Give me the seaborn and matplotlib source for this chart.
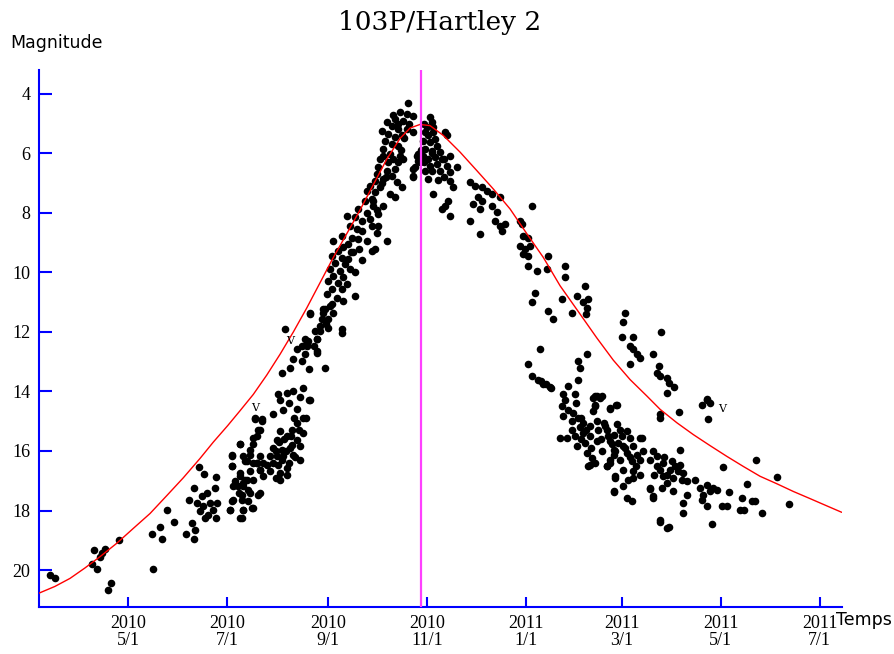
import pandas as pd
import numpy as np
import matplotlib.pyplot as plt
import seaborn as sns

# !! Observations (days counted from 2010-01-01, total magnitude) !!
early_day = [71.5, 74.9, 97.4, 100.5, 99.0, 102.6, 105.6, 103.6, 107.3, 109.3,
             114.3, 134.4, 139.5, 140.6, 135.4, 143.7, 148.3, 155.5, 159.0, 161.1,
             160.7, 157.6, 160.7, 163.8, 166.7, 162.1, 164.2, 166.2, 168.3, 169.3,
             172.4, 173.4, 173.9, 174.5, 173.9, 165.2, 170.3, 167.3]
early_mag = [20.18, 20.27, 19.8, 19.96, 19.34, 19.55, 19.29, 19.43, 20.67, 20.44,
             18.98, 18.79, 18.57, 18.96, 19.96, 17.97, 18.37, 18.78, 18.42, 18.65,
             18.96, 17.64, 17.24, 16.54, 16.76, 17.75, 18.03, 17.86, 17.41, 18.14,
             17.97, 17.24, 16.87, 17.75, 18.25, 17.52, 17.75, 18.25]

july_day = [183.7, 184.1, 182.7, 184.1, 188.8, 190.9, 185.7, 187.8, 188.8, 190.9,
            192.9, 189.9, 193.9, 188.8, 197.0, 195.0, 191.9, 197.0, 200.1, 198.1,
            202.2, 201.1, 200.1, 197.0, 201.1, 199.1, 203.2]
july_mag = [16.15, 16.49, 17.97, 17.69, 18.25, 17.97, 17.13, 17.19, 16.85, 17.07,
            16.96, 17.47, 17.3, 15.78, 16.4, 16.12, 16.35, 15.56, 15.28, 14.94,
            14.94, 16.63, 17.47, 17.92, 16.18, 16.4, 16.4]

aug_day = [231.7, 240.1, 241.8, 238.1, 216.5, 223.7, 226.8, 230.8, 236.0, 236.4,
           228.9, 221.7, 226.8, 231.5, 219.6, 214.5, 241.2, 212.4, 217.6, 221.7,
           227.8, 213.5, 232.0, 215.6, 209.4, 198.1, 202.2, 227.8, 223.7, 220.7,
           213.5, 227.8, 217.6, 223.7, 211.4, 201.1, 199.1, 225.8, 219.6, 214.5,
           197.1, 188.9, 195.0, 221.7, 215.6, 211.4, 183.7, 190.9, 207.3, 225.8,
           193.0, 199.1, 205.3, 212.4, 217.6, 201.1, 195.0, 207.3, 213.5, 183.7,
           188.9, 185.8, 191.9, 197.1, 203.2, 213.5, 184.8, 190.9, 187.9, 195.0,
           201.1, 184.8, 189.9, 182.7, 196.1, 190.9, 189.9, 194.0, 240.1, 244.3,
           230.0, 236.1, 231.1, 229.5, 209.0, 211.0, 213.0, 215.0, 217.0, 219.0,
           221.0, 223.0, 209.0, 211.0, 218.0, 216.0, 220.0, 222.0, 225.0, 224.0,
           226.0, 219.0]
aug_mag = [11.37, 11.35, 11.74, 11.97, 11.89, 12.59, 12.47, 12.3, 12.25, 12.64,
           12.75, 12.92, 12.98, 13.26, 13.2, 13.37, 13.2, 14.1, 14.04, 13.99,
           13.88, 14.27, 14.27, 14.61, 14.77, 14.89, 15.0, 14.89, 15.05, 15.28,
           15.34, 15.39, 15.5, 15.62, 15.62, 15.28, 15.5, 15.84, 15.9, 15.95,
           15.78, 15.78, 15.95, 16.12, 16.18, 16.18, 16.18, 16.18, 16.18, 16.29,
           16.35, 16.4, 16.46, 16.46, 16.57, 16.63, 16.68, 16.68, 16.74, 16.51,
           16.74, 17.02, 16.96, 16.96, 16.85, 16.96, 17.19, 17.19, 17.41, 17.41,
           17.41, 17.64, 17.64, 17.97, 17.92, 17.97, 18.25, 17.69, 11.24, 11.13,
           12.36, 12.7, 14.27, 14.89, 15.9, 16.0, 15.7, 16.3, 16.0, 16.4,
           15.8, 16.2, 16.4, 16.9, 16.8, 15.6, 15.5, 14.9, 15.3, 14.6,
           14.2, 14.4]

rise_day = [292.6, 287.4, 291.5, 295.6, 284.3, 289.5, 279.2, 282.3, 276.1, 286.4,
            291.5, 280.2, 284.3, 288.5, 278.2, 282.3, 286.4, 277.1, 281.3, 287.4,
            298.7, 275.0, 280.2, 289.5, 298.7, 274.0, 279.2, 284.3, 296.6, 273.0,
            282.3, 295.6, 277.1, 272.0, 285.4, 268.9, 275.0, 288.5, 266.8, 272.0,
            281.3, 284.3, 269.9, 265.8, 277.1, 270.9, 274.0, 261.7, 254.6, 259.7,
            263.8, 268.9, 256.6, 269.9, 274.0, 260.7, 273.0, 251.5, 257.6, 261.7,
            246.3, 255.6, 266.8, 279.2, 252.5, 249.4, 258.7, 269.9, 272.0, 245.3,
            251.5, 255.6, 247.3, 253.5, 256.6, 244.3, 250.4, 259.7, 246.3, 252.5,
            243.2, 249.4, 254.6, 245.3, 251.5, 242.2, 248.3, 259.7, 252.5, 245.3,
            241.2, 232.0, 246.3, 239.1, 243.2, 238.0, 243.2, 251.5, 251.5, 235.1,
            228.9, 236.1, 230.0, 234.1, 283.0, 286.0, 290.0, 293.0, 288.0, 283.0,
            277.0, 279.0, 286.0, 271.0, 276.0, 273.0, 267.0, 264.0, 262.0, 257.0,
            264.0]
rise_mag = [4.3, 4.62, 4.67, 4.73, 4.84, 4.9, 4.95, 5.07, 5.24, 5.18,
            5.18, 5.35, 5.46, 5.4, 5.57, 5.68, 5.74, 5.85, 6.02, 6.08,
            6.02, 6.19, 6.3, 6.19, 6.25, 6.47, 6.58, 6.53, 6.47, 6.69,
            6.75, 6.8, 6.86, 6.92, 6.97, 7.09, 7.14, 7.14, 7.26, 7.31,
            7.37, 7.48, 7.54, 7.59, 7.76, 7.76, 8.04, 7.87, 8.1, 8.15,
            8.27, 8.21, 8.43, 8.43, 8.43, 8.55, 8.66, 8.77, 8.83, 8.88,
            8.94, 9.05, 8.94, 8.94, 9.16, 9.28, 9.33, 9.28, 9.22, 9.44,
            9.5, 9.56, 9.67, 9.72, 9.89, 9.89, 9.95, 10.0, 10.12, 10.17,
            10.29, 10.34, 10.4, 10.57, 10.57, 10.73, 10.85, 10.79, 10.96, 11.07,
            11.24, 11.41, 11.35, 11.58, 11.58, 11.8, 11.86, 11.91, 12.02, 11.97,
            12.25, 12.25, 12.47, 12.47, 4.7, 5.0, 5.5, 5.0, 5.9, 6.2,
            6.1, 6.8, 6.3, 7.6, 7.0, 7.9, 8.0, 8.6, 9.2, 9.3,
            9.6]

post_day = [295.6, 297.7, 299.7, 295.6, 295.6, 305.9, 306.9, 307.9, 302.8, 304.8,
            301.7, 305.9, 309.0, 310.0, 302.8, 306.9, 312.1, 315.2, 316.2, 301.7,
            304.8, 309.0, 314.2, 318.2, 305.9, 310.0, 316.2, 322.4, 306.9, 312.1,
            318.2, 304.8, 314.2, 318.2, 320.3, 307.9, 317.2, 315.2, 313.1, 318.2,
            330.6, 333.6, 337.7, 340.8, 343.9, 349.0, 335.7, 337.7, 332.6, 336.7,
            343.9, 347.0, 330.6, 346.0, 349.0, 352.1, 350.1, 336.7, 361.4, 362.4,
            368.5, 363.4, 366.5, 361.4, 364.5, 367.5, 366.5, 363.4, 366.5, 371.7,
            377.8, 378.8, 370.6, 302.0, 303.0, 304.0, 307.0, 308.0, 311.0, 313.0,
            302.0, 300.5]
post_mag = [5.29, 6.08, 6.3, 6.53, 6.75, 4.78, 4.95, 5.12, 5.29, 5.4,
            5.57, 5.63, 5.52, 5.74, 5.85, 5.91, 5.96, 5.29, 5.4, 6.08,
            6.19, 6.13, 6.19, 6.08, 6.41, 6.36, 6.41, 6.47, 6.58, 6.58,
            6.64, 6.86, 6.8, 6.92, 7.14, 7.37, 7.59, 7.76, 7.87, 8.1,
            6.97, 7.09, 7.14, 7.26, 7.37, 7.48, 7.48, 7.59, 7.7, 7.87,
            7.76, 7.98, 8.27, 8.27, 8.43, 8.38, 8.6, 8.71, 8.27, 8.38,
            7.76, 8.77, 8.83, 9.11, 9.22, 9.11, 9.44, 9.39, 9.78, 9.95,
            9.89, 9.44, 10.68, 5.0, 6.6, 5.1, 6.0, 5.3, 6.9, 6.2,
            6.3, 5.9]

winter_day = [389.0, 389.0, 368.5, 378.8, 381.9, 387.1, 396.3, 401.4, 403.4, 400.4,
              402.5, 402.0, 393.2, 373.4, 366.5, 368.5, 372.5, 375.6, 379.8, 374.5,
              377.6, 380.7, 397.2, 398.2, 402.7, 397.2, 391.0, 387.9, 407.4, 409.0,
              389.0, 387.0, 391.0, 387.9, 394.1, 397.2, 393.1, 400.4, 404.5, 408.6,
              409.6, 413.7, 406.4, 410.6, 407.4, 406.4, 416.8, 420.9, 400.4, 404.5,
              415.8, 386.0, 390.1, 395.2, 393.1, 396.3, 401.4, 408.6, 417.9, 402.5,
              405.5, 418.9, 407.4, 403.4, 414.7, 419.9, 418.9, 416.8, 407.4, 404.5,
              396.0, 399.0, 402.0, 398.0, 405.0, 411.0, 412.0, 399.0, 395.0]
winter_mag = [9.78, 10.17, 11.01, 11.3, 11.55, 10.9, 10.79, 10.45, 10.9, 11.01,
              11.18, 11.41, 11.38, 12.59, 13.09, 13.48, 13.6, 13.76, 13.84, 13.65,
              13.76, 13.88, 12.98, 13.2, 12.75, 13.6, 13.82, 14.1, 14.16, 14.16,
              14.27, 14.5, 14.61, 14.83, 14.72, 14.89, 15.0, 15.05, 15.17, 15.0,
              15.28, 15.17, 14.21, 14.21, 14.5, 14.66, 14.57, 14.46, 15.39, 15.5,
              15.5, 15.56, 15.56, 15.5, 15.28, 15.84, 15.73, 15.67, 15.78, 16.06,
              16.23, 16.12, 16.4, 16.49, 16.51, 16.85, 17.38, 16.4, 14.44, 16.46,
              14.4, 14.9, 15.3, 15.2, 15.9, 15.6, 16.0, 15.6, 14.1]

upper_day = [426.0, 424.9, 424.0, 431.1, 429.1, 431.1, 433.2, 435.3, 429.1, 448.2,
             443.2, 446.7, 445.7, 447.7, 451.9, 452.9, 456.0, 451.9, 476.4, 478.5,
             473.4, 476.5, 477.1, 447.4, 447.4, 459.5]
upper_mag = [11.38, 11.66, 12.16, 12.16, 12.47, 12.59, 12.75, 12.87, 13.09, 11.99,
             12.75, 13.15, 13.37, 13.48, 13.54, 13.71, 13.85, 14.04, 14.25, 14.38,
             14.44, 14.29, 14.91, 14.77, 14.89, 14.68]

spring_day = [411.7, 416.8, 420.5, 412.8, 414.8, 418.9, 423.0, 427.1, 429.2, 435.3,
              416.8, 421.9, 425.0, 431.1, 418.9, 427.1, 433.2, 435.3, 416.8, 423.0,
              430.2, 414.8, 425.0, 431.1, 435.3, 419.9, 428.1, 431.1, 425.0, 418.9,
              427.1, 430.2, 443.5, 445.6, 441.4, 449.6, 454.8, 459.9, 447.7, 453.8,
              458.9, 462.0, 449.6, 455.8, 461.0, 464.1, 451.9, 448.9, 441.4, 443.5,
              455.8, 459.9, 436.3, 469.1, 464.1, 462.0, 462.0, 447.7, 452.9, 472.2,
              476.3, 480.4, 474.3, 478.4, 482.5, 473.4, 476.5, 479.6, 486.3, 485.7,
              488.7, 497.0, 499.0, 498.0, 504.2, 506.2, 510.3, 501.1, 506.8, 519.5,
              526.7, 490.2, 447.7, 451.9, 441.4, 443.2, 421.0, 424.0, 426.0, 429.0,
              433.0, 420.0, 437.0, 446.0, 450.0, 452.0, 457.0, 444.0]
spring_mag = [14.16, 14.58, 14.46, 15.05, 15.28, 15.45, 15.28, 15.34, 15.56, 15.56,
              15.67, 15.73, 15.84, 15.84, 15.95, 16.06, 16.12, 16.29, 16.29, 16.29,
              16.35, 16.51, 16.63, 16.68, 16.79, 16.91, 16.96, 16.91, 17.19, 17.36,
              17.58, 17.69, 16.01, 16.18, 16.29, 16.4, 16.35, 16.46, 16.63, 16.63,
              16.68, 16.74, 16.85, 16.91, 16.96, 17.02, 17.07, 17.24, 17.24, 17.52,
              17.36, 15.95, 15.56, 16.96, 17.47, 17.75, 18.09, 18.37, 18.57, 17.24,
              17.13, 17.24, 17.47, 17.36, 17.3, 17.64, 17.86, 18.44, 16.54, 17.86,
              17.86, 17.97, 17.97, 17.58, 17.69, 17.69, 18.09, 17.1, 16.29, 16.89,
              17.77, 17.37, 18.31, 18.59, 17.28, 17.58, 15.1, 15.5, 15.9, 16.2,
              16.5, 16.0, 16.0, 16.5, 16.2, 16.8, 16.5, 16.8]

curve_day = [64.8, 74.8, 84.1, 93.3, 102.6, 112.9, 123.1, 133.4, 143.7, 153.9,
             164.2, 172.4, 181.2, 188.8, 197.0, 205.3, 213.5, 221.7, 229.9, 238.1,
             246.3, 254.6, 262.8, 271.0, 279.2, 287.4, 293.6, 299.7, 305.9, 314.1,
             324.4, 334.7, 344.9, 355.2, 365.5, 375.7, 386.0, 398.3, 408.6, 418.8,
             429.1, 439.4, 447.6, 457.9, 468.1, 478.4, 488.7, 498.9, 509.2, 519.5,
             529.7, 540.0, 549.3, 559.5]
curve_mag = [20.78, 20.55, 20.28, 19.93, 19.55, 19.1, 18.6, 18.1, 17.5, 16.9,
             16.25, 15.7, 15.15, 14.65, 14.1, 13.45, 12.75, 12.0, 11.2, 10.35,
             9.5, 8.7, 7.9, 7.05, 6.2, 5.5, 5.15, 5.03, 5.07, 5.4,
             5.96, 6.58, 7.2, 7.87, 8.7, 9.5, 10.45, 11.4, 12.2, 12.95,
             13.6, 14.15, 14.6, 15.05, 15.45, 15.82, 16.18, 16.52, 16.85, 17.1,
             17.36, 17.6, 17.82, 18.06]

# "V" marks (day, magnitude)
v_day = [198.0, 219.6, 485.7]
v_mag = [14.55, 12.3, 14.6]

perihelion_day = 300.5
tick_days = [120, 181, 243, 304, 365, 424, 485, 546]
tick_labels = ['2010\n5/1', '2010\n7/1', '2010\n9/1', '2010\n11/1',
               '2011\n1/1', '2011\n3/1', '2011\n5/1', '2011\n7/1']

start = pd.Timestamp('2010-01-01')


def to_dates(days):
    return start + pd.to_timedelta(np.asarray(days, dtype=float), unit='D')


obs = pd.DataFrame({
    'date': to_dates(early_day + july_day + aug_day + rise_day + post_day
                     + winter_day + upper_day + spring_day),
    'mag': early_mag + july_mag + aug_mag + rise_mag + post_mag
           + winter_mag + upper_mag + spring_mag,
})
curve = pd.DataFrame({'date': to_dates(curve_day), 'mag': curve_mag})

# !! Gerando o gráfico !!
sns.set_style('white')
fig, ax = plt.subplots(figsize=(8.95, 6.54), dpi=100)
fig.subplots_adjust(left=0.0432, right=0.9405, bottom=0.0719, top=0.893)

sns.scatterplot(data=obs, x='date', y='mag', color='black', s=30,
                linewidth=0, ax=ax, zorder=3)
sns.lineplot(data=curve, x='date', y='mag', color='red', lw=1,
             estimator=None, ax=ax, zorder=4)
ax.axvline(to_dates([perihelion_day])[0], color='#ff40ff', lw=1.6, zorder=5)

for d, m in zip(v_day, v_mag):
    ax.text(to_dates([d])[0], m, 'V', ha='center', va='center',
            family='DejaVu Serif', fontsize=8, color='black', zorder=6)

ax.set_xlim(to_dates([64.8])[0], to_dates([559.5])[0])
ax.set_ylim(21.24, 3.2)
ax.set_xticks(to_dates(tick_days))
ax.set_xticklabels(tick_labels, family='Liberation Serif', fontsize=13,
                   linespacing=1.0)
ax.set_yticks(range(4, 21, 2))
ax.set_yticklabels([str(v) for v in range(4, 21, 2)],
                   family='Liberation Serif', fontsize=13)
ax.set_xlabel('')
ax.set_ylabel('')

for side in ['top', 'right']:
    ax.spines[side].set_visible(False)
for side in ['left', 'bottom']:
    ax.spines[side].set_color('blue')
    ax.spines[side].set_linewidth(1.5)
ax.tick_params(axis='y', which='major', left=True, direction='in',
               length=9.5, width=1.5, color='blue', labelcolor='black', pad=6)
ax.tick_params(axis='x', which='major', bottom=True, direction='in',
               length=7, width=1.5, color='blue', labelcolor='black', pad=6)

fig.text(0.4916, 0.966, '103P/Hartley 2', ha='center', va='center',
         family='DejaVu Serif', fontsize=19, color='black')
fig.text(10 / 895, 1 - 43 / 654, 'Magnitude', ha='left', va='center',
         fontsize=12.5, color='black')
fig.text(836 / 895, 1 - 620 / 654, 'Temps', ha='left', va='center',
         fontsize=12.5, color='black')

fig.savefig('out.png', dpi=100)
